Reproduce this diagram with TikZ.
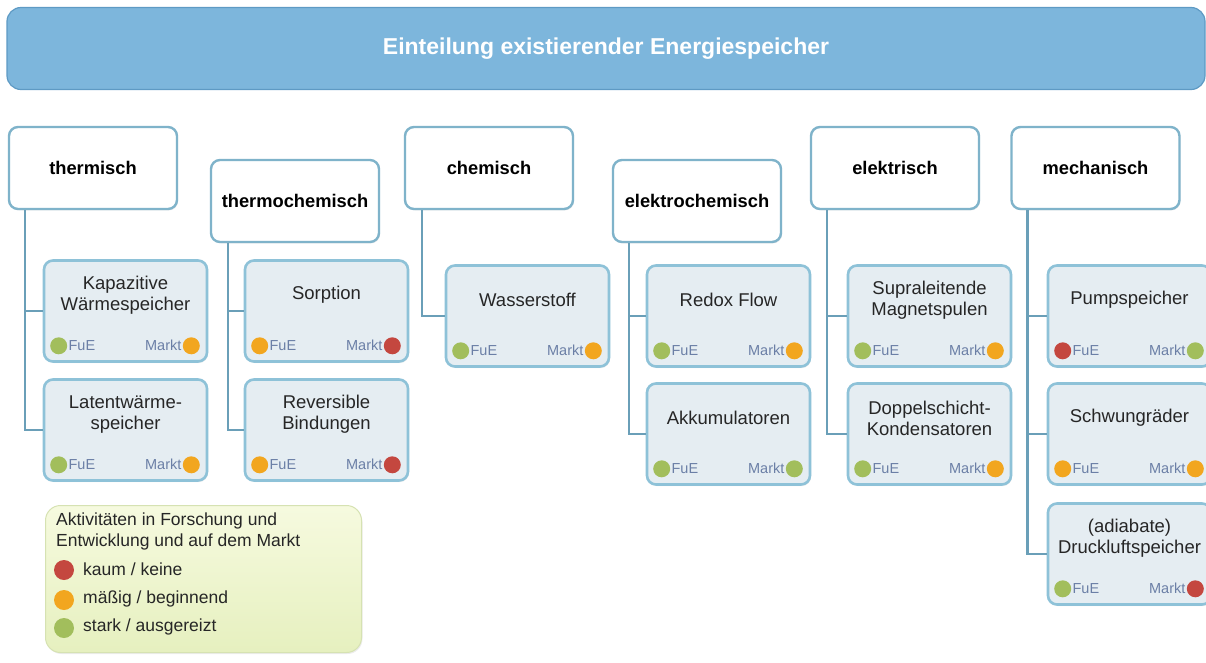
\documentclass[tikz,border=0pt]{standalone}
\usepackage{fontspec}
\setmainfont{Liberation Sans}
\usepackage{tikz}
\usetikzlibrary{shadows}
\definecolor{barblue}{HTML}{7DB6DC}
\definecolor{barline}{HTML}{5E9AC4}
\definecolor{boxline}{HTML}{7FB3CA}
\definecolor{itemfill}{HTML}{E5EDF2}
\definecolor{itemline}{HTML}{8EC2D8}
\definecolor{connline}{HTML}{6A9FB8}
\definecolor{tagtext}{HTML}{6B7FA6}
\definecolor{dotred}{HTML}{C4473F}
\definecolor{dotorange}{HTML}{F2A61F}
\definecolor{dotgreen}{HTML}{A2BE5C}
\definecolor{legtop}{HTML}{F6FADF}
\definecolor{legbottom}{HTML}{E6F0BF}
\definecolor{legline}{HTML}{D6E2B2}
\tikzset{
    titlebar/.style={rectangle,rounded corners=14pt,draw=barline,line width=1.2pt,fill=barblue,
        minimum width=1198pt,minimum height=82pt,text=white,font=\bfseries\fontsize{23}{26}\selectfont},
    catbox/.style={rectangle,rounded corners=9pt,draw=boxline,line width=2.4pt,fill=white,
        minimum width=168pt,minimum height=82pt,font=\bfseries\fontsize{18.3}{21}\selectfont,
        drop shadow={opacity=0.12,shadow xshift=1pt,shadow yshift=-1.5pt}},
    itembox/.style={rectangle,rounded corners=9pt,draw=itemline,line width=2.6pt,fill=itemfill,
        minimum width=163pt,minimum height=101pt,
        drop shadow={opacity=0.15,shadow xshift=1pt,shadow yshift=-1.5pt}},
    itemtext/.style={align=center,text=black!85,font=\fontsize{18.5}{21}\selectfont},
    tag/.style={inner sep=1pt,text=tagtext,font=\fontsize{14.5}{16}\selectfont},
    dot/.style={circle,inner sep=0pt,minimum size=17pt},
    conn/.style={draw=connline,line width=2.4pt},
    legbox/.style={rectangle,rounded corners=15pt,draw=legline,line width=1pt,
        top color=legtop,bottom color=legbottom,
        minimum width=316pt,minimum height=147pt,
        drop shadow={opacity=0.15,shadow xshift=1pt,shadow yshift=-1.5pt}},
    legtext/.style={text=black!85,font=\fontsize{17.5}{21}\selectfont,align=left,inner sep=0pt}
}
% storage box: name, x, y, text, FuE colour, Markt colour
\newcommand{\storage}[6]{%
  \node[itembox] (#1) at (#2,#3) {};
  \node[itemtext] (#1t) at ([yshift=-36pt]#1.north) {#4};
  \node[dot,fill=#5] (#1f) at ([shift={(16pt,17pt)}]#1.south west) {};
  \node[tag,anchor=west] (#1fl) at (#1f.east) {FuE};
  \node[dot,fill=#6] (#1m) at ([shift={(-17pt,17pt)}]#1.south east) {};
  \node[tag,anchor=east] (#1ml) at (#1m.west) {Markt};
}

\begin{document}
\begin{tikzpicture}[x=1pt,y=-1pt]
\useasboundingbox (0,0) rectangle (1206,662);

\node[titlebar] (title) at (606,48.5) {Einteilung existierender Energiespeicher};

% categories
\node[catbox] (therm) at (93,168) {thermisch};
\node[catbox] (tchem) at (295,201) {thermochemisch};
\node[catbox] (chem) at (489,168) {chemisch};
\node[catbox] (echem) at (697,201) {elektrochemisch};
\node[catbox] (elek) at (895,168) {elektrisch};
\node[catbox] (mech) at (1095.5,168) {mechanisch};

% storage types
\storage{kap}{125.5}{311}{Kapazitive\\Wärmespeicher}{dotgreen}{dotorange}
\storage{lat}{125.5}{430}{Latentwärme-\\speicher}{dotgreen}{dotorange}
\storage{sorp}{326.5}{311}{Sorption}{dotorange}{dotred}
\storage{rev}{326.5}{430}{Reversible\\Bindungen}{dotorange}{dotred}
\storage{wass}{527.5}{316}{Wasserstoff}{dotgreen}{dotorange}
\storage{redox}{728.5}{316}{Redox Flow}{dotgreen}{dotorange}
\storage{akku}{728.5}{434}{Akkumulatoren}{dotgreen}{dotgreen}
\storage{supra}{929.5}{316}{Supraleitende\\Magnetspulen}{dotgreen}{dotorange}
\storage{doppel}{929.5}{434}{Doppelschicht-\\Kondensatoren}{dotgreen}{dotorange}
\storage{pump}{1129.5}{316}{Pumpspeicher}{dotred}{dotgreen}
\storage{schwung}{1129.5}{434}{Schwungräder}{dotorange}{dotorange}
\storage{druck}{1129.5}{554}{(adiabate)\\Druckluftspeicher}{dotgreen}{dotred}

% connectors
\draw[conn] ([xshift=17pt]therm.south west) |- (kap.west);
\draw[conn] ([xshift=17pt]therm.south west) |- (lat.west);
\draw[conn] ([xshift=18pt]tchem.south west) |- (sorp.west);
\draw[conn] ([xshift=18pt]tchem.south west) |- (rev.west);
\draw[conn] ([xshift=18pt]chem.south west) |- (wass.west);
\draw[conn] ([xshift=17pt]echem.south west) |- (redox.west);
\draw[conn] ([xshift=17pt]echem.south west) |- (akku.west);
\draw[conn] ([xshift=17pt]elek.south west) |- (supra.west);
\draw[conn] ([xshift=17pt]elek.south west) |- (doppel.west);
\draw[conn] ([xshift=17pt]mech.south west) |- (pump.west);
\draw[conn] ([xshift=17pt]mech.south west) |- (schwung.west);
\draw[conn] ([xshift=17pt]mech.south west) |- (druck.west);

% legend
\node[legbox] (leg) at (203.5,579) {};
\node[legtext,anchor=north west] (legt) at (56,513) {Aktivitäten in Forschung und\\Entwicklung und auf dem Markt};
\node[dot,minimum size=20pt,fill=dotred] (lr) at (64,570) {};
\node[dot,minimum size=20pt,fill=dotorange] (lo) at (64,600) {};
\node[dot,minimum size=20pt,fill=dotgreen] (lg) at (64,628) {};
\node[legtext,anchor=west] (lrt) at (83,569) {kaum / keine};
\node[legtext,anchor=west] (lot) at (83,599) {mäßig / beginnend};
\node[legtext,anchor=west] (lgt) at (83,627) {stark / ausgereizt};

\end{tikzpicture}
\end{document}
